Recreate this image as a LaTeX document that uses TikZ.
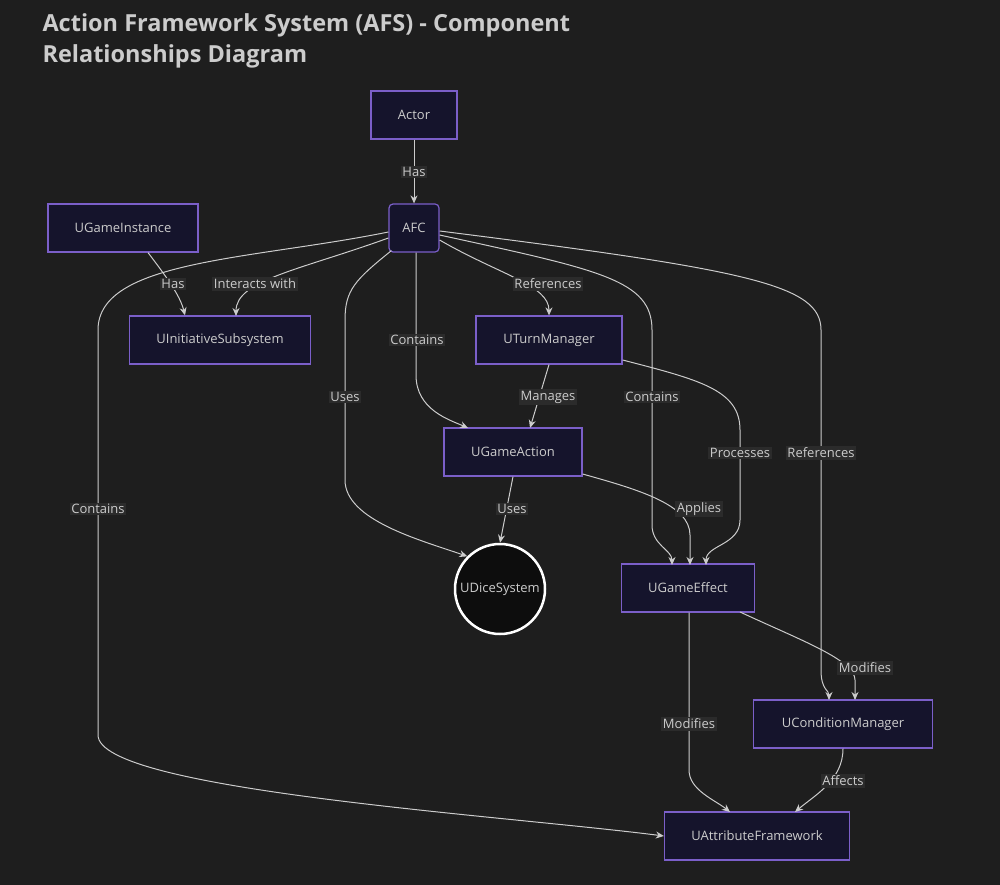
\documentclass[tikz,border=0pt]{standalone}
\usepackage{fontspec}
\setmainfont{Open Sans}
\usetikzlibrary{arrows.meta}
\definecolor{bg}{HTML}{1E1E1E}
\definecolor{nfill}{HTML}{15142C}
\definecolor{nborder}{HTML}{7B5FC9}
\definecolor{edge}{HTML}{CCCCCC}
\definecolor{lblbg}{HTML}{2B2B2B}
\begin{document}
\begin{tikzpicture}[x=1pt,y=-1pt,
  box/.style={draw=nborder,fill=nfill,line width=1.2pt,minimum height=48pt,text=edge,font=\fontsize{13}{16}\selectfont,inner sep=0pt},
  e/.style={draw=edge,line width=1pt,-{Stealth[length=8pt,width=7pt]}},
  lbl/.style={fill=lblbg,text=edge,font=\fontsize{13}{16}\selectfont,inner sep=1.5pt}]
\fill[bg] (0,0) rectangle (1000,885);
\useasboundingbox (0,0) rectangle (1000,885);
\node[anchor=north west,align=left,text=edge,font=\fontsize{23.5}{31}\selectfont\bfseries] (title) at (39,10) {Action Framework System (AFS) - Component\\Relationships Diagram};
\node[box,minimum width=86pt] (actor) at (414,115) {Actor};
\node[box,minimum width=50pt,rounded corners=4pt] (afc) at (414,228) {AFC};
\node[box,minimum width=150pt] (ugi) at (123,228) {UGameInstance};
\node[box,minimum width=181pt] (uis) at (220,340) {UInitiativeSubsystem};
\node[box,minimum width=146pt] (utm) at (549,340) {UTurnManager};
\node[box,minimum width=138pt] (uga) at (513,452) {UGameAction};
\node[circle,draw=white,fill=black!95,line width=2.5pt,minimum size=90pt,text=edge,font=\fontsize{13}{16}\selectfont,inner sep=0pt] (uds) at (500,589) {UDiceSystem};
\node[box,minimum width=133pt] (uge) at (688,588) {UGameEffect};
\node[box,minimum width=179pt] (ucm) at (843,724) {UConditionManager};
\node[box,minimum width=185pt] (uaf) at (757,836) {UAttributeFramework};

\draw[e] (actor) -- (afc);
\draw[e] (ugi.south) ++(25,0) coordinate (g1) (g1) .. controls (165,275) and (180,295) .. (uis.north -| 185,0);
\draw[e] (afc.west) ++(0,10) coordinate (a1) (a1) .. controls (300,270) and (236,280) .. (236,316);
\draw[e] (afc.west) ++(0,4) coordinate (a2) (a2) .. controls (250,260) and (98,260) .. (98,330) -- (98,735) .. controls (98,790) and (500,815) .. (uaf.west);
\draw[e] (afc.south west) ++(3,-2) coordinate (a3) (a3) .. controls (355,280) and (345,290) .. (345,320) -- (345,480) .. controls (345,520) and (420,540) .. (uds.north west);
\draw[e] (afc.south) ++(2,0) coordinate (a4) (a4) -- (416,375) .. controls (416,410) and (450,420) .. (468,428);
\draw[e] (afc.east) ++(0,12) coordinate (a5) (a5) .. controls (500,275) and (549,285) .. (utm.north);
\draw[e] (afc.east) ++(0,7) coordinate (a6) (a6) .. controls (600,270) and (652,280) .. (652,330) -- (652,525) .. controls (652,545) and (672,550) .. (672,565);
\draw[e] (afc.east) ++(0,3) coordinate (a7) (a7) .. controls (750,270) and (821,285) .. (821,330) -- (821,670) .. controls (821,690) and (829,690) .. (829,700);
\draw[e] (utm.south) -- (530,428);
\draw[e] (utm.east) ++(0,20) coordinate (t1) (t1) .. controls (700,380) and (740,390) .. (740,430) -- (740,520) .. controls (740,545) and (706,545) .. (706,565);
\draw[e] (uga.south) -- (uds.north);
\draw[e] (uga.east) ++(0,22) coordinate (g2) (g2) .. controls (640,490) and (690,505) .. (690,535) -- (690,565);
\draw[e] (uge.east) ++(-15,24) coordinate (f1) (f1) .. controls (800,640) and (855,660) .. (855,680) -- (855,700);
\draw[e] (uge.south) ++(1,0) coordinate (f2) (f2) -- (689,770) .. controls (689,790) and (715,800) .. (730,812);
\draw[e] (ucm.south) .. controls (843,780) and (815,795) .. (795,812);

\node[lbl] (l1) at (414,172) {Has};
\node[lbl] (l2) at (173,284) {Has};
\node[lbl] (l3) at (255,284) {Interacts with};
\node[lbl] (l4) at (98,509) {Contains};
\node[lbl] (l5) at (345,397) {Uses};
\node[lbl] (l6) at (417,340) {Contains};
\node[lbl] (l7) at (548,284) {References};
\node[lbl] (l8) at (652,397) {Contains};
\node[lbl] (l9) at (821,453) {References};
\node[lbl] (l10) at (548,397) {Manages};
\node[lbl] (l11) at (740,453) {Processes};
\node[lbl] (l12) at (512,509) {Uses};
\node[lbl] (l13) at (699,509) {Applies};
\node[lbl] (l14) at (865,668) {Modifies};
\node[lbl] (l15) at (689,724) {Modifies};
\node[lbl] (l16) at (843,781) {Affects};
\end{tikzpicture}
\end{document}
